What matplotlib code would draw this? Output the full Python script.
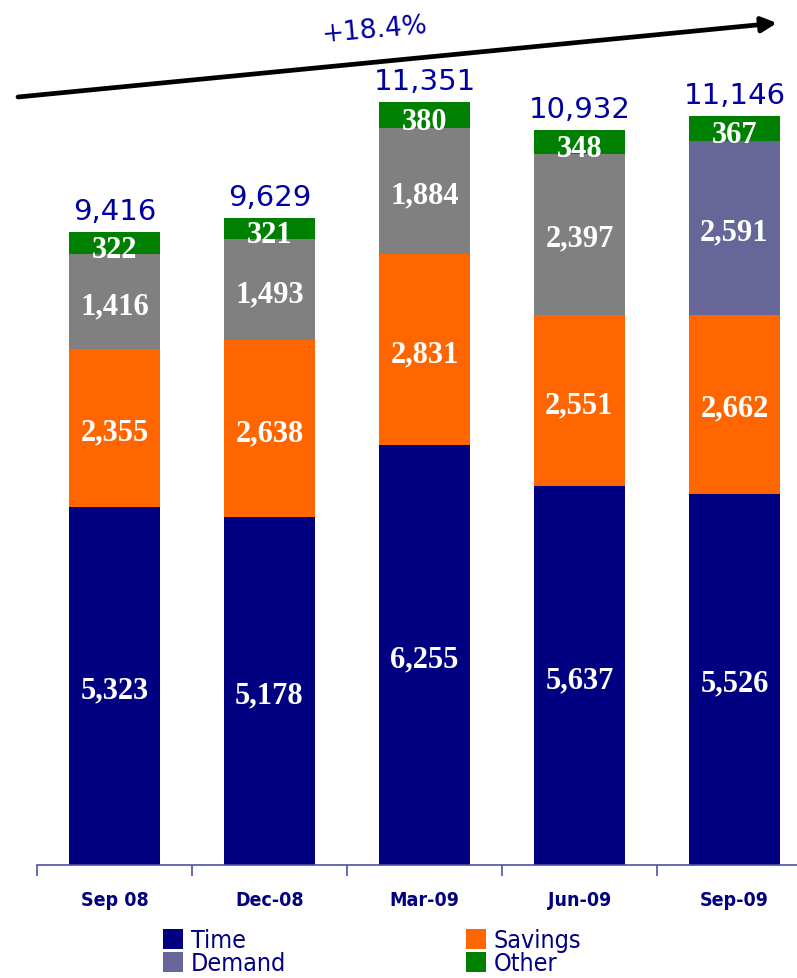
import matplotlib
matplotlib.use("Agg")
import matplotlib.pyplot as plt
from matplotlib.patches import Rectangle

# ===== DATA =====
quarters = ["Sep 08", "Dec-08", "Mar-09", "Jun-09", "Sep-09"]
time_dep = [5323, 5178, 6255, 5637, 5526]
savings = [2355, 2638, 2831, 2551, 2662]
demand = [1416, 1493, 1884, 2397, 2591]
other = [322, 321, 380, 348, 367]
totals = [9416, 9629, 11351, 10932, 11146]
growth_label = "+18.4%"

NAVY = "#000080"
ORANGE = "#FF6600"
GREY = "#808080"
SLATE = "#666699"
GREEN = "#008000"
LABEL_BLUE = "#0000A0"

demand_colors = [GREY, GREY, GREY, GREY, SLATE]

fig = plt.figure(figsize=(7.97, 9.79), dpi=100)
ax = fig.add_axes([37 / 797, 113 / 979, 775 / 797, 866 / 979])

x = list(range(len(quarters)))
w = 0.593
b1 = [t + s for t, s in zip(time_dep, savings)]
b2 = [a + d for a, d in zip(b1, demand)]

ax.bar(x, time_dep, w, color=NAVY, zorder=2)
ax.bar(x, savings, w, bottom=time_dep, color=ORANGE, zorder=2)
ax.bar(x, demand, w, bottom=b1, color=demand_colors, zorder=2)
ax.bar(x, other, w, bottom=b2, color=GREEN, zorder=2)

seg_font = dict(family="Liberation Serif", weight="bold", size=22, color="white",
                ha="center", va="center", zorder=3)
for i in x:
    ax.text(i, time_dep[i] / 2 - 60, f"{time_dep[i]:,}", **seg_font)
    ax.text(i, time_dep[i] + savings[i] / 2 - 60, f"{savings[i]:,}", **seg_font)
    ax.text(i, b1[i] + demand[i] / 2 - 60, f"{demand[i]:,}", **seg_font)
    ax.text(i, b2[i] + other[i] / 2 - 90, f"{other[i]:,}", **seg_font)
    ax.text(i, totals[i] + 110, f"{totals[i]:,}", ha="center", va="bottom",
            family="DejaVu Sans", size=21, color=LABEL_BLUE, zorder=1)

ax.set_xlim(-0.5, 4.5)
ax.set_ylim(0, 12887)
for s in ("top", "right", "left"):
    ax.spines[s].set_visible(False)
ax.spines["bottom"].set_color("#5050A8")
ax.spines["bottom"].set_linewidth(1.2)
ax.set_yticks([])
ax.set_xticks([i - 0.5 for i in range(6)])
ax.set_xticklabels([])
ax.set_xticks(x, minor=True)
ax.set_xticklabels(quarters, minor=True, fontsize=14, fontweight="bold",
                   color=NAVY, family="DejaVu Sans", fontstretch="condensed")
ax.tick_params(axis="x", which="major", direction="out", length=8,
               color="#5050A8", width=1.2)
ax.tick_params(axis="x", which="minor", length=0, pad=18)

# growth arrow across the top, on a pixel-space overlay
overlay = fig.add_axes([0, 0, 1, 1], facecolor="none")
overlay.set_xlim(0, 797)
overlay.set_ylim(979, 0)
overlay.axis("off")
overlay.annotate("", xy=(777, 24), xytext=(18, 98),
                 arrowprops=dict(arrowstyle="-|>,head_length=0.9,head_width=0.45",
                                 color="black", lw=3.4, shrinkA=0, shrinkB=0))
overlay.text(374, 30, growth_label, ha="center", va="center", rotation=5,
             family="DejaVu Sans", size=19, color=LABEL_BLUE)

# legend drawn in figure space
legend_items = [("Time", NAVY, 163, 940), ("Savings", ORANGE, 466, 940),
                ("Demand", SLATE, 163, 963), ("Other", GREEN, 466, 963)]
for name, col, lx, ly in legend_items:
    overlay.add_patch(Rectangle((lx, ly - 10), 20, 20, color=col, lw=0))
    overlay.text(lx + 28, ly + 1, name, ha="left", va="center",
                 family="DejaVu Sans", size=18, color=NAVY,
                 fontstretch="condensed")

fig.savefig("out.png", dpi=100)
